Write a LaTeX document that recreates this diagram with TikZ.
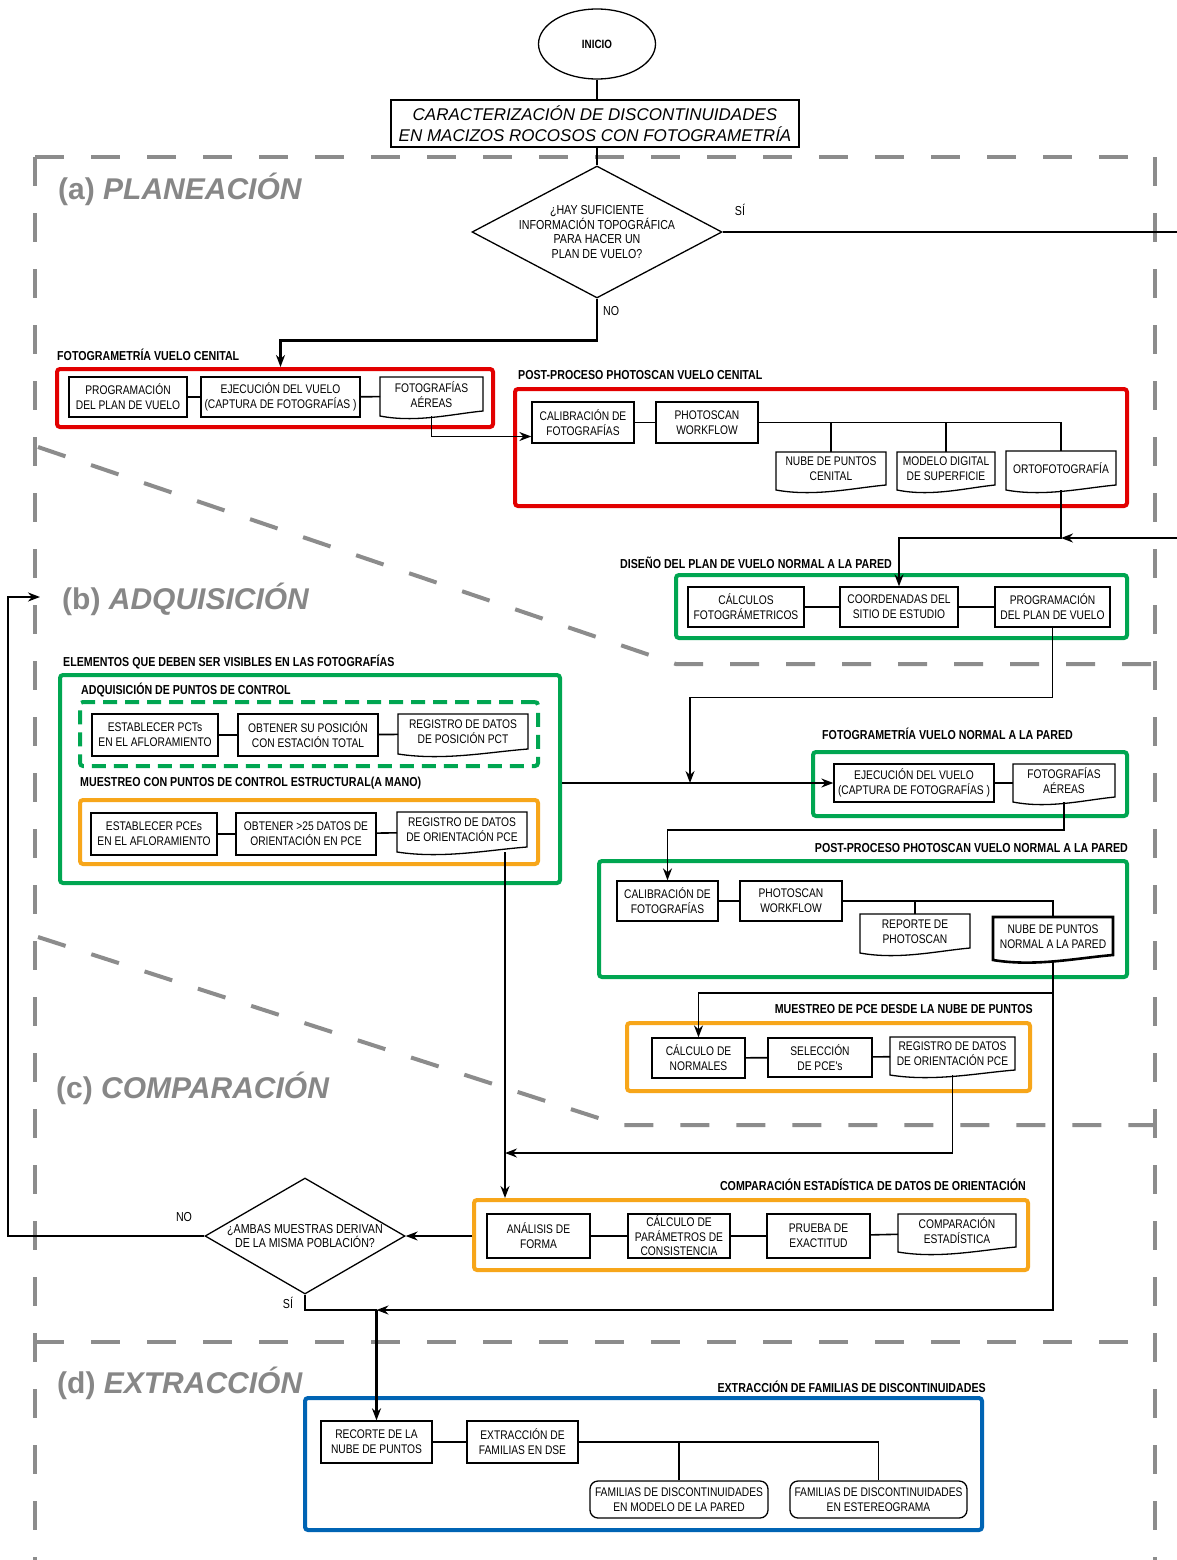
\documentclass[tikz,border=0pt]{standalone}
\usepackage{fontspec}
\setmainfont{Liberation Sans}
\newfontfamily\nf[FakeStretch=0.82]{Liberation Sans}
\usetikzlibrary{arrows.meta,shapes.geometric,calc}
\definecolor{cred}{RGB}{226,0,0}
\definecolor{cgreen}{RGB}{0,166,81}
\definecolor{corange}{RGB}{247,166,26}
\definecolor{cblue}{RGB}{0,100,180}
\definecolor{cgray}{RGB}{140,140,140}
\definecolor{ctitle}{RGB}{135,135,135}
\newcommand{\docnode}[7][]{%
  \node[docframe, minimum width={#5-#3}, minimum height={#6-#4}] (#2) at ({(#3+#5)/2},{(#4+#6)/2}) {};
  \draw[boxline,#1] (#3,#6) -- (#3,#4) -- (#5,#4) -- (#5,{#6-5}) .. controls ({#5-0.3*(#5-#3)},{#6-2}) and ({#3+0.35*(#5-#3)},{#6+7}) .. (#3,#6) -- cycle;
  \node[boxtext] (#2t) at ({(#3+#5)/2},{(#4+#6)/2-2}) {#7};
}
\begin{document}
\begin{tikzpicture}[x=1pt,y=-1pt,
 boxline/.style={draw=black,line width=1.3pt},
 box/.style={boxline, align=center, inner sep=1pt, font=\nf\fontsize{12.5}{15}\selectfont},
 boxtext/.style={align=center, inner sep=0pt, font=\nf\fontsize{12.5}{15}\selectfont},
 docframe/.style={draw=none, inner sep=0pt, outer sep=0pt},
 grp/.style={line width=4pt, rounded corners=3pt, inner sep=0pt},
 lab/.style={font=\nf\bfseries\fontsize{13}{15}\selectfont, inner sep=0pt},
 yn/.style={font=\nf\fontsize{13}{14.7}\selectfont, inner sep=0pt, align=center},
 sect/.style={font=\bfseries\fontsize{30}{34}\selectfont, text=ctitle, inner sep=0pt, anchor=west},
 region/.style={draw=cgray, line width=4pt, dash pattern=on 29pt off 27pt},
 conn/.style={draw=black, line width=1.6pt},
 mid/.style={draw=black, line width=2.1pt},
 flow/.style={draw=black, line width=2.8pt},
 arr/.style={-{Stealth[length=12pt,width=9pt]}},
]
\useasboundingbox (0,0) rectangle (1177,1560);
\fill[white] (0,0) rectangle (1177,1560);

% regions
\draw[region] (35,157) -- (1155,157);
\draw[region] (35,157) -- (35,1565);
\draw[region] (1155,157) -- (1155,1565);
\draw[region] (38,447) -- (676,664) -- (1155,664);
\draw[region] (38,937) -- (620,1125) -- (1155,1125);
\draw[region] (35,1342) -- (1155,1342);

\node[sect] (ta) at (58,189) {(a) \textit{PLANEACIÓN}};
\node[sect] (tb) at (62,599) {(b) \textit{ADQUISICIÓN}};
\node[sect] (tc) at (56,1088) {(c) \textit{COMPARACIÓN}};
\node[sect] (td) at (57,1383) {(d) \textit{EXTRACCIÓN}};

% top
\node[ellipse, boxline, minimum width=117, minimum height=70, inner sep=0pt, font=\nf\bfseries\fontsize{12}{14}\selectfont] (inicio) at (597,44) {INICIO};
\node[boxline, minimum width=408, minimum height=47, align=center, inner sep=0pt, font=\itshape\fontsize{17}{21}\selectfont] (title) at (595,123.5) {CARACTERIZACIÓN DE DISCONTINUIDADES\\EN MACIZOS ROCOSOS CON FOTOGRAMETRÍA};
\node[diamond, boxline, minimum width=250, minimum height=132, inner sep=0pt] (d1) at (597,232) {};
\node[yn] (d1t) at (597,232) {¿HAY SUFICIENTE\\INFORMACIÓN TOPOGRÁFICA\\PARA HACER UN\\PLAN DE VUELO?};
\node[yn] (si1) at (740,210) {SÍ};
\node[yn, anchor=west] (no1) at (603,311) {NO};
\draw[flow] (inicio.south) -- (inicio.south |- title.north);
\draw[flow] (d1.north |- title.south) -- (d1.north);

% group 1
\node[lab, anchor=west] (l1) at (57,355) {FOTOGRAMETRÍA VUELO CENITAL};
\node[grp, draw=cred, minimum width=436, minimum height=58] (g1) at (275,398) {};
\node[box, minimum width=118, minimum height=40] (prog1) at (128,397) {PROGRAMACIÓN\\DEL PLAN DE VUELO};
\node[box, minimum width=159, minimum height=40] (ejec1) at (280.5,397) {EJECUCIÓN DEL VUELO\\(CAPTURA DE FOTOGRAFÍAS )};
\docnode{fotos1}{380}{377}{483}{416}{FOTOGRAFÍAS\\AÉREAS}
\draw[conn] (prog1) -- (ejec1);
\draw[conn] (ejec1) -- (fotos1);
\draw[flow, arr] (d1.south) -- ++(0,42) -| (ejec1.north |- g1.north);

% group 2
\node[lab, anchor=west] (l2) at (518,375) {POST-PROCESO PHOTOSCAN VUELO CENITAL};
\node[grp, draw=cred, minimum width=612, minimum height=117] (g2) at (821,447.5) {};
\node[box, minimum width=102, minimum height=41] (calib1) at (583,422.5) {CALIBRACIÓN DE\\FOTOGRAFÍAS};
\node[box, minimum width=102, minimum height=41] (wf1) at (707,422.5) {PHOTOSCAN\\WORKFLOW};
\docnode{nube1}{776}{452}{886}{490}{NUBE DE PUNTOS\\CENITAL}
\docnode{modelo}{897}{452}{995}{490}{MODELO DIGITAL\\DE SUPERFICIE}
\docnode{orto}{1006}{451}{1116}{490}{ORTOFOTOGRAFÍA}
\draw[conn] (calib1) -- (wf1);
\draw[conn] (wf1.east) -| (orto.north);
\draw[conn] (nube1.north) -- (nube1.north |- wf1.east);
\draw[conn] (modelo.north) -- (modelo.north |- wf1.east);
\draw[conn, arr] (fotos1.south) |- ([yshift=-14pt]calib1.west);

% group 3
\node[lab, anchor=west] (l3) at (620,563) {DISEÑO DEL PLAN DE VUELO NORMAL A LA PARED};
\node[grp, draw=cgreen, minimum width=451, minimum height=63] (g3) at (901.5,606.5) {};
\node[box, minimum width=116, minimum height=40] (calc) at (746,607) {CÁLCULOS\\FOTOGRÁMETRICOS};
\node[box, minimum width=118, minimum height=40] (coord) at (899,607) {COORDENADAS DEL\\SITIO DE ESTUDIO};
\node[box, minimum width=115, minimum height=40] (prog2) at (1052.5,607) {PROGRAMACIÓN\\DEL PLAN DE VUELO};
\draw[conn] (calc) -- (coord);
\draw[conn] (coord) -- (prog2);

\coordinate (j1) at (orto.south |- 0,538);
\draw[mid, arr] (d1.east) -- (1195,232) |- (j1);
\draw[conn, arr] (orto.south) -- (j1) -| (coord.north);

% big green group
\node[lab, anchor=west] (l4) at (63,662) {ELEMENTOS QUE DEBEN SER VISIBLES EN LAS FOTOGRAFÍAS};
\node[grp, draw=cgreen, minimum width=500, minimum height=208] (gbig) at (310,779) {};
\node[lab, anchor=west] (l5) at (81,690) {ADQUISICIÓN DE PUNTOS DE CONTROL};
\node[grp, draw=cgreen, dash pattern=on 14pt off 8pt, minimum width=458, minimum height=64] (gdash) at (309,734) {};
\node[box, minimum width=126, minimum height=42] (pct1) at (155,735) {ESTABLECER PCTs\\EN EL AFLORAMIENTO};
\node[box, minimum width=140, minimum height=42] (pct2) at (308,735) {OBTENER SU POSICIÓN\\CON ESTACIÓN TOTAL};
\docnode{pct3}{398}{714}{528}{754}{REGISTRO DE DATOS\\DE POSICIÓN PCT}
\draw[conn] (pct1) -- (pct2);
\draw[conn] (pct2) -- (pct3);
\node[lab, anchor=west] (l6) at (80,783) {MUESTREO CON PUNTOS DE CONTROL ESTRUCTURAL(A MANO)};
\node[grp, draw=corange, minimum width=458, minimum height=64] (gor1) at (309,832) {};
\node[box, minimum width=126, minimum height=42] (pce1) at (154,834) {ESTABLECER PCEs\\EN EL AFLORAMIENTO};
\node[box, minimum width=140, minimum height=42] (pce2) at (306,834) {OBTENER >25 DATOS DE\\ORIENTACIÓN EN PCE};
\docnode{pce3}{397}{812}{527}{852}{REGISTRO DE DATOS\\DE ORIENTACIÓN PCE}
\draw[conn] (pce1) -- (pce2);
\draw[conn] (pce2) -- (pce3);

% group 4
\node[lab, anchor=west] (l7) at (822,734) {FOTOGRAMETRÍA VUELO NORMAL A LA PARED};
\node[grp, draw=cgreen, minimum width=314, minimum height=64] (g4) at (970,784) {};
\node[box, minimum width=160, minimum height=38] (ejec2) at (914,783) {EJECUCIÓN DEL VUELO\\(CAPTURA DE FOTOGRAFÍAS )};
\docnode{fotos2}{1013}{764}{1115}{802}{FOTOGRAFÍAS\\AÉREAS}
\draw[conn] (ejec2) -- (fotos2);
\coordinate (j2) at (690,783);
\draw[conn, arr] (prog2.south) -- ++(0,70) -| (j2);
\draw[conn, arr] (gbig.east |- ejec2.west) -- (ejec2.west);

% group 5
\node[lab, anchor=east] (l8) at (1128,848) {POST-PROCESO PHOTOSCAN VUELO NORMAL A LA PARED};
\node[grp, draw=cgreen, minimum width=528, minimum height=116] (g5) at (863,919) {};
\node[box, minimum width=101, minimum height=40] (calib2) at (667.5,901) {CALIBRACIÓN DE\\FOTOGRAFÍAS};
\node[box, minimum width=102, minimum height=40] (wf2) at (791,901) {PHOTOSCAN\\WORKFLOW};
\docnode{reporte}{860}{914}{970}{953}{REPORTE DE\\PHOTOSCAN}
\docnode[line width=2.6pt]{nube2}{993}{917}{1113}{960}{NUBE DE PUNTOS\\NORMAL A LA PARED}
\draw[conn] (calib2) -- (wf2);
\draw[conn] (wf2.east) -| (nube2.north);
\draw[conn] (reporte.north) -- (reporte.north |- wf2.east);
\draw[conn, arr] (fotos2.south) -- ++(0,28) -| (calib2.north);

% group 6
\node[lab, anchor=east] (l9) at (1033,1009) {MUESTREO DE PCE DESDE LA NUBE DE PUNTOS};
\node[grp, draw=corange, minimum width=403, minimum height=68] (g6) at (828.5,1057) {};
\node[box, minimum width=93, minimum height=40] (normales) at (698.5,1058) {CÁLCULO DE\\NORMALES};
\node[box, minimum width=104, minimum height=39] (selec) at (820,1057.5) {SELECCIÓN\\DE PCE's};
\docnode{reg3}{890}{1037}{1015}{1075}{REGISTRO DE DATOS\\DE ORIENTACIÓN PCE}
\draw[conn] (normales) -- (selec);
\draw[conn] (selec) -- (reg3);
\coordinate (j3) at (nube2.south |- 0,993);
\draw[conn] (nube2.south) -- (j3);
\draw[conn, arr] (j3) -| (normales.north);

% comparison group
\node[lab, anchor=east] (l10) at (1026,1185) {COMPARACIÓN ESTADÍSTICA DE DATOS DE ORIENTACIÓN};
\node[grp, draw=corange, minimum width=554, minimum height=70] (gcomp) at (751,1235) {};
\node[box, minimum width=103, minimum height=44] (anal) at (538.5,1236) {ANÁLISIS DE\\FORMA};
\node[box, minimum width=102, minimum height=44, font=\nf\fontsize{12.5}{14.5}\selectfont] (calcp) at (679,1236) {CÁLCULO DE\\PARÁMETROS DE\\CONSISTENCIA};
\node[box, minimum width=103, minimum height=44] (prueba) at (818.5,1236) {PRUEBA DE\\EXACTITUD};
\docnode{compd}{898}{1214}{1016}{1252}{COMPARACIÓN\\ESTADÍSTICA}
\draw[conn] (anal) -- (calcp);
\draw[conn] (calcp) -- (prueba);
\draw[conn] (prueba) -- (compd);

\coordinate (pcedrop) at ([xshift=43pt]pce3.south);
\coordinate (j4) at (pcedrop |- 0,1153);
\draw[conn, arr] (pcedrop) -- (pcedrop |- gcomp.north);
\draw[conn, arr] (reg3.south) |- (j4);

% diamond 2
\node[diamond, boxline, minimum width=200, minimum height=116, inner sep=0pt] (d2) at (305,1236) {};
\node[yn] (d2t) at (305,1236) {¿AMBAS MUESTRAS DERIVAN\\DE LA MISMA POBLACIÓN?};
\node[yn] (no2) at (184,1217) {NO};
\node[yn] (si2) at (288,1303) {SÍ};
\draw[conn, arr] (d2.east -| gcomp.west) -- (d2.east);
\coordinate (fbk) at (40,597);
\draw[mid, arr] (d2.west) -- (8,1236) |- (fbk);

% blue group
\node[lab, anchor=east] (l11) at (986,1387) {EXTRACCIÓN DE FAMILIAS DE DISCONTINUIDADES};
\node[grp, draw=cblue, minimum width=677, minimum height=132] (gblue) at (643.5,1464) {};
\node[box, minimum width=111, minimum height=42] (recorte) at (376.5,1442) {RECORTE DE LA\\NUBE DE PUNTOS};
\node[box, minimum width=111, minimum height=42] (extrac) at (522.5,1442) {EXTRACCIÓN DE\\FAMILIAS EN DSE};
\node[box, rounded corners=8pt, minimum width=178, minimum height=37] (fam1) at (679,1499.5) {FAMILIAS DE DISCONTINUIDADES\\EN MODELO DE LA PARED};
\node[box, rounded corners=8pt, minimum width=177, minimum height=37] (fam2) at (878.5,1499.5) {FAMILIAS DE DISCONTINUIDADES\\EN ESTEREOGRAMA};
\draw[conn] (recorte) -- (extrac);
\draw[conn] (extrac.east) -| (fam2.north);
\draw[conn] (fam1.north) -- (fam1.north |- extrac.east);

\coordinate (j5) at (recorte.north |- 0,1310);
\draw[mid] (d2.south) |- (j5);
\draw[conn, arr] (j3) |- (j5);
\draw[mid, arr] (j5) -- (recorte.north);
\end{tikzpicture}
\end{document}
